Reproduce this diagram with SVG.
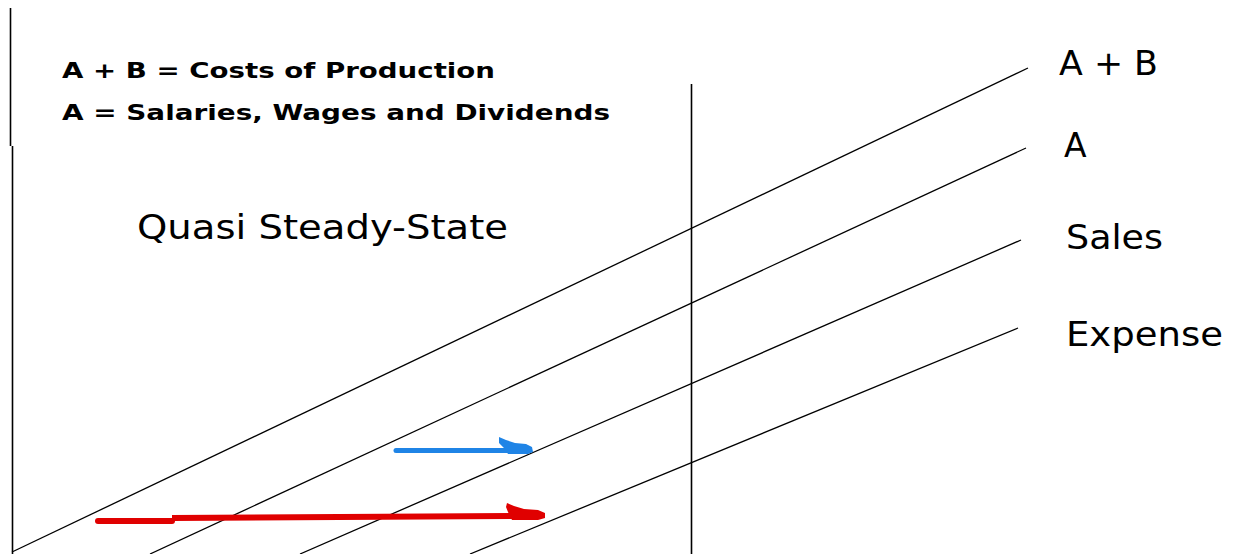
<svg xmlns="http://www.w3.org/2000/svg" width="1237" height="554" viewBox="0 0 1237 554">
  <style>
    .ax { stroke: #000; stroke-width: 1.6; fill: none; }
    .ln { stroke: #000; stroke-width: 1.3; fill: none; }
    .hd { font-family: "DejaVu Sans", Verdana, sans-serif; font-weight: bold; font-size: 21.5px; fill: #000; }
    .lb { font-family: "DejaVu Sans", Verdana, sans-serif; font-size: 33px; fill: #000; }
  </style>
  <rect width="1237" height="554" fill="#fff"/>
  <g id="axes">
    <line class="ax" x1="10.5" y1="8" x2="10.5" y2="146"/>
    <line class="ax" x1="12.5" y1="146" x2="12.5" y2="554"/>
    <line class="ax" x1="691.5" y1="84" x2="691.5" y2="554"/>
  </g>
  <g id="connectors">
    <line id="line-ab" class="ln" x1="12" y1="552" x2="1028" y2="68"/>
    <line id="line-a" class="ln" x1="150" y1="554" x2="1026" y2="148"/>
    <line id="line-sales" class="ln" x1="300" y1="554" x2="1021" y2="240"/>
    <line id="line-expense" class="ln" x1="470" y1="554" x2="1018" y2="328"/>
    <g id="blue-arrow" fill="#1f84e6">
      <line x1="396" y1="450.5" x2="515" y2="450.5" stroke="#1f84e6" stroke-width="5" stroke-linecap="round"/>
      <polygon points="499,437 506,440 515,443 526,444 532,447 533,452 528,454 508,454 504,448 499,443"/>
    </g>
    <g id="red-arrow" fill="#e00000">
      <line x1="98" y1="521" x2="172" y2="521" stroke="#e00000" stroke-width="6" stroke-linecap="round"/>
      <line x1="172" y1="518" x2="520" y2="516" stroke="#e00000" stroke-width="6"/>
      <polygon points="507,503 514,506 524,509 538,510 545,513 545,518 538,520 512,520 508,512 506,507"/>
    </g>
  </g>
  <g id="legend">
    <text class="hd" x="62" y="78" textLength="433" lengthAdjust="spacingAndGlyphs">A + B = Costs of Production</text>
    <text class="hd" x="62" y="120" textLength="548" lengthAdjust="spacingAndGlyphs">A = Salaries, Wages and Dividends</text>
  </g>
  <g id="title">
    <text class="lb" x="137" y="239" textLength="371" lengthAdjust="spacingAndGlyphs">Quasi Steady-State</text>
  </g>
  <g id="label-ab"><text class="lb" x="1059" y="75" textLength="99" lengthAdjust="spacingAndGlyphs">A + B</text></g>
  <g id="label-a"><text class="lb" x="1064" y="157">A</text></g>
  <g id="label-sales"><text class="lb" x="1066" y="249" textLength="97" lengthAdjust="spacingAndGlyphs">Sales</text></g>
  <g id="label-expense"><text class="lb" x="1066" y="346" textLength="157" lengthAdjust="spacingAndGlyphs">Expense</text></g>
</svg>
